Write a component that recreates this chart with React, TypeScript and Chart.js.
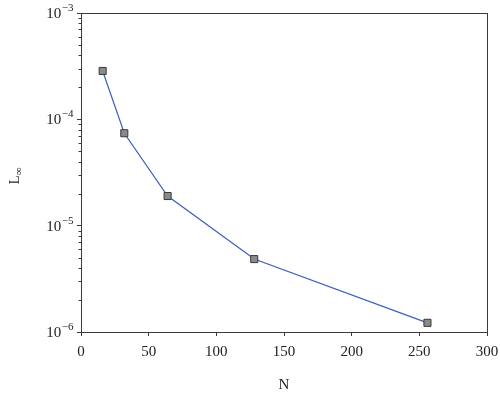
import React, { useEffect, useRef } from "react";
import { Chart, registerables } from "chart.js";

Chart.register(...registerables);

const nValues = [16, 32, 64, 128, 256];
const errorValues = [2.85e-4, 7.4e-5, 1.9e-5, 4.85e-6, 1.22e-6];
const xTickValues = [0, 50, 100, 150, 200, 250, 300];
const yMajorTicks = [1e-6, 1e-5, 1e-4, 1e-3];
const yLabelBase = "10";
const yLabelExponents = ["−6", "−5", "−4", "−3"];
const xTitle = "N";
const yTitleMain = "L";
const yTitleSub = "∞";

const FONT = "'Liberation Serif', 'DejaVu Serif', serif";
const AXIS_COLOR = "#3a3a3a";

const frameAndTicks = {
  id: "frameAndTicks",
  afterDraw(chart: any) {
    const { ctx, chartArea } = chart;
    const ys = chart.scales.y;
    ctx.save();
    ctx.strokeStyle = AXIS_COLOR;
    ctx.lineWidth = 1;
    ctx.strokeRect(chartArea.left + 0.5, chartArea.top + 0.5, chartArea.right - chartArea.left, chartArea.bottom - chartArea.top);
    // minor ticks on log y axis
    for (let d = -6; d < -3; d++) {
      for (let m = 2; m <= 9; m++) {
        const v = m * Math.pow(10, d);
        const py = Math.round(ys.getPixelForValue(v)) + 0.5;
        ctx.beginPath();
        ctx.moveTo(chartArea.left - 2.5, py);
        ctx.lineTo(chartArea.left, py);
        ctx.stroke();
      }
    }
    // y tick labels with superscript exponents
    ctx.fillStyle = "#222";
    ctx.textBaseline = "alphabetic";
    ctx.textAlign = "left";
    yMajorTicks.forEach((v, i) => {
      const py = ys.getPixelForValue(v);
      ctx.font = `11px ${FONT}`;
      const ew = ctx.measureText(yLabelExponents[i]).width;
      ctx.font = `15px ${FONT}`;
      const bw = ctx.measureText(yLabelBase).width;
      const right = chartArea.left - 8;
      const x0 = right - ew - bw;
      ctx.fillText(yLabelBase, x0, py + 5);
      ctx.font = `11px ${FONT}`;
      ctx.fillText(yLabelExponents[i], x0 + bw + 0.5, py - 2);
    });
    // y title L with subscript infinity
    ctx.translate(19, 176);
    ctx.rotate(-Math.PI / 2);
    ctx.font = `15px ${FONT}`;
    const w = ctx.measureText(yTitleMain).width;
    ctx.font = `11px ${FONT}`;
    const sw = ctx.measureText(yTitleSub).width;
    const total = w + sw;
    ctx.font = `15px ${FONT}`;
    ctx.fillText(yTitleMain, -total / 2, 0);
    ctx.font = `11px ${FONT}`;
    ctx.fillText(yTitleSub, -total / 2 + w, 3);
    ctx.restore();
  },
};

export default function App() {
  const ref = useRef<HTMLCanvasElement | null>(null);
  useEffect(() => {
    if (!ref.current) return;
    const chart = new Chart(ref.current, {
      type: "line",
      data: {
        datasets: [
          {
            data: nValues.map((n, i) => ({ x: n, y: errorValues[i] })),
            borderColor: "#3b5cc4",
            borderWidth: 1.2,
            pointStyle: "rect",
            pointRadius: 5,
            pointBackgroundColor: "#8a8a8a",
            pointBorderColor: "#3a3a3a",
            pointBorderWidth: 1,
            tension: 0,
          },
        ],
      },
      plugins: [frameAndTicks],
      options: {
        animation: false,
        responsive: false,
        layout: { padding: { top: 13, right: 13, left: 0, bottom: 0 } },
        plugins: { legend: { display: false }, tooltip: { enabled: false } },
        scales: {
          x: {
            type: "linear",
            min: 0,
            max: 300,
            afterBuildTicks: (s: any) => {
              s.ticks = xTickValues.map((v) => ({ value: v }));
            },
            afterFit: (s: any) => {
              s.height = 66;
              s.paddingLeft = 0;
              s.paddingRight = 0;
            },
            grid: { drawOnChartArea: false, tickLength: 4, color: AXIS_COLOR },
            border: { color: AXIS_COLOR },
            ticks: { color: "#222", font: { family: FONT, size: 15 }, padding: 7, maxRotation: 0 },
            title: { display: true, text: xTitle, color: "#222", font: { family: FONT, size: 15 }, padding: { top: 13 } },
          },
          y: {
            type: "logarithmic",
            min: 1e-6,
            max: 1e-3,
            afterBuildTicks: (s: any) => {
              s.ticks = yMajorTicks.map((v) => ({ value: v }));
            },
            afterFit: (s: any) => {
              s.width = 81;
              s.paddingTop = 0;
              s.paddingBottom = 0;
            },
            grid: { drawOnChartArea: false, tickLength: 4, color: AXIS_COLOR },
            border: { color: AXIS_COLOR },
            ticks: {
              color: "#222",
              font: { family: FONT, size: 15 },
              padding: 4,
              callback: () => "",
            },
          },
        },
      },
    } as any);
    return () => chart.destroy();
  }, []);
  return (
    <div style={{ position: "absolute", left: 0, top: 0, width: 500, height: 398, background: "#fff" }}>
      <canvas ref={ref} width={500} height={398} />
    </div>
  );
}
